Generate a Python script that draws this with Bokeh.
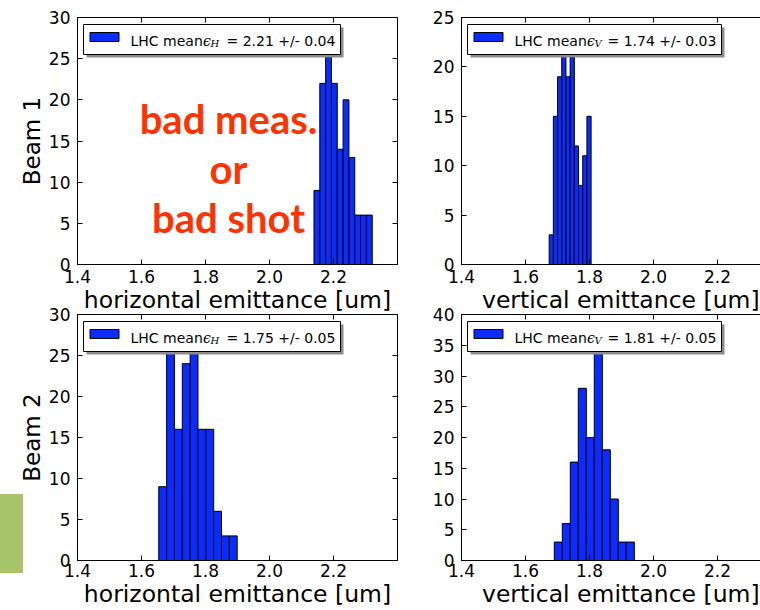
import numpy as np
from bokeh.plotting import figure
from bokeh.layouts import column, row
from bokeh.models import (LinearAxis, FixedTicker, PrintfTickFormatter,
                          CustomJSTickFormatter, BoxAnnotation, Label, Range1d,
                          Spacer)
from bokeh.embed import file_html
from bokeh.resources import INLINE

# ---------------- data ----------------
x_ticks = [1.4, 1.6, 1.8, 2.0, 2.2]
x_start = 1.4
beam_labels = ["Beam 1", "Beam 2"]
x_titles = ["horizontal emittance [um]", "vertical emittance [um]"]
annotation_lines = ["bad meas.", "or", "bad shot"]

b1_h_counts = [9, 22, 26, 22, 14, 20, 13, 6, 6, 6]
b1_h_range = (2.139, 2.321)
b1_h_ymax = 30
b1_h_mean = "2.21 +/- 0.04"

b1_v_counts = [3, 15, 19, 22, 19, 21, 12, 8, 11, 15]
b1_v_range = (1.674, 1.805)
b1_v_ymax = 25
b1_v_mean = "1.74 +/- 0.03"

b2_h_counts = [9, 26, 16, 24, 26, 16, 16, 6, 3, 3]
b2_h_range = (1.654, 1.899)
b2_h_ymax = 30
b2_h_mean = "1.75 +/- 0.05"

b2_v_counts = [3, 6, 16, 28, 20, 37, 18, 10, 3, 3]
b2_v_range = (1.690, 1.940)
b2_v_ymax = 40
b2_v_mean = "1.81 +/- 0.05"

# ---------------- style ----------------
BAR = "#0a2cff"
FONT = "DejaVu Sans"
PX_PER_UNIT = 320.0


def X(p, px):
    r = p.x_range
    return r.start + px / p.frame_width * (r.end - r.start)


def Y(p, py):
    r = p.y_range
    return r.end - py / p.frame_height * (r.end - r.start)


def style_axis(ax, ticks, fmt, labels=True, standoff=3):
    ax.ticker = FixedTicker(ticks=ticks)
    ax.major_tick_in = 5
    ax.major_tick_out = 0
    ax.minor_tick_line_color = None
    ax.axis_line_color = "black"
    ax.axis_line_width = 1
    ax.major_tick_line_color = "black"
    ax.major_label_text_font = FONT
    ax.major_label_text_color = "black"
    if labels:
        ax.formatter = PrintfTickFormatter(format=fmt)
        ax.major_label_text_font_size = "17px"
        ax.major_label_standoff = standoff
    else:
        ax.formatter = CustomJSTickFormatter(code="return ''")
        ax.major_label_text_font_size = "0px"
        ax.major_label_standoff = 0


def txt(p, s, px, py, font, size, style="normal", color="black", align="left"):
    p.add_layout(Label(x=X(p, px), y=Y(p, py), text=s, text_font=font,
                       text_font_size=size, text_font_style=style,
                       text_color=color, text_align=align,
                       text_baseline="alphabetic"))


def add_legend(p, sub, mean_txt, box_w, eq_px):
    bl, bt, bh = 6, 7, 30
    p.add_layout(BoxAnnotation(left=X(p, bl + 3), right=X(p, bl + 3 + box_w),
                               top=Y(p, bt + 3), bottom=Y(p, bt + 3 + bh),
                               fill_color="#8c8c8c", fill_alpha=1.0, line_color=None))
    p.add_layout(BoxAnnotation(left=X(p, bl), right=X(p, bl + box_w),
                               top=Y(p, bt), bottom=Y(p, bt + bh),
                               fill_color="white", fill_alpha=1.0,
                               line_color="black", line_alpha=1.0, line_width=1))
    p.add_layout(BoxAnnotation(left=X(p, bl + 6.5), right=X(p, bl + 35.5),
                               top=Y(p, bt + 8), bottom=Y(p, bt + 17),
                               fill_color=BAR, fill_alpha=1.0,
                               line_color="black", line_alpha=1.0, line_width=1))
    base = bt + 16.5
    txt(p, "LHC mean", bl + 47, base, FONT, "14px")
    txt(p, "\u03f5", bl + 119.5, base, "DejaVu Serif", "14px", "italic")
    txt(p, sub, bl + 127, base + 2.5, "DejaVu Serif", "10px", "italic")
    txt(p, "= " + mean_txt, bl + eq_px, base, FONT, "14px")


def make_panel(counts, rng, ymax, fw, fh, left_b, right_b, top_b, bottom_b,
               right_axis, ylabel, xtitle, tick_standoff, transparent=False,
               margin=None):
    kw = {}
    if margin is not None:
        kw["margin"] = margin
    p = figure(frame_width=fw, frame_height=fh,
               x_range=Range1d(x_start, x_start + fw / PX_PER_UNIT),
               y_range=Range1d(0, ymax),
               min_border_left=left_b, min_border_right=right_b,
               min_border_top=top_b, min_border_bottom=bottom_b,
               output_backend="svg", toolbar_location=None, **kw)
    p.xgrid.visible = False
    p.ygrid.visible = False
    p.outline_line_color = None
    p.background_fill_color = "white"
    if transparent:
        p.border_fill_color = None
    edges = np.linspace(rng[0], rng[1], len(counts) + 1)
    p.quad(left=edges[:-1], right=edges[1:], bottom=0, top=counts,
           fill_color=BAR, line_color="black", line_width=1)
    y_ticks = list(range(0, ymax + 1, 5))
    xa = p.below[0]
    ya = p.left[0]
    style_axis(xa, x_ticks, "%.1f", True, tick_standoff)
    style_axis(ya, y_ticks, "%d", True, 7)
    top = LinearAxis()
    style_axis(top, x_ticks, "%.1f", False)
    p.add_layout(top, "above")
    if right_axis:
        ra = LinearAxis()
        style_axis(ra, y_ticks, "%d", False)
        p.add_layout(ra, "right")
    if ylabel:
        ya.axis_label = ylabel
        ya.axis_label_text_font = FONT
        ya.axis_label_text_font_size = "23px"
        ya.axis_label_text_font_style = "normal"
        ya.axis_label_text_color = "black"
        ya.axis_label_standoff = 1
    xa.axis_label = xtitle
    xa.axis_label_text_font = FONT
    xa.axis_label_text_font_size = "23.5px"
    xa.axis_label_text_font_style = "normal"
    xa.axis_label_text_color = "black"
    xa.axis_label_standoff = 0
    return p


FW_L, FW_R = 320, 299
FH_T, FH_B = 247, 246
SHIFT = "\u00a0\u00a0\u2009"   # nudges the cropped right-hand titles to the right

p1 = make_panel(b1_h_counts, b1_h_range, b1_h_ymax, FW_L, FH_T, 77, 29, 17, 52,
                True, beam_labels[0], x_titles[0], 5)
p2 = make_panel(b1_v_counts, b1_v_range, b1_v_ymax, FW_R, FH_T, 35, 0, 17, 52,
                False, None, SHIFT + x_titles[1], 5)
p3 = make_panel(b2_h_counts, b2_h_range, b2_h_ymax, FW_L, FH_B, 66, 29, 12, 50,
                True, beam_labels[1], x_titles[0], 3, transparent=True,
                margin=(0, 0, 0, -12))
p4 = make_panel(b2_v_counts, b2_v_range, b2_v_ymax, FW_R, FH_B, 35, 0, 12, 50,
                False, None, SHIFT + x_titles[1], 3, transparent=True)

add_legend(p1, "H", b1_h_mean, 257, 143)
add_legend(p2, "V", b1_v_mean, 254, 140)
add_legend(p3, "H", b2_h_mean, 257, 143)
add_legend(p4, "V", b2_v_mean, 254, 140)

# red annotation on beam 1 horizontal
for line, base in zip(annotation_lines, [101, 151, 200]):
    txt(p1, line, 151, base, "Lato", "40px", "bold", color="#ff3300", align="center")

# green slide decoration at the left of the lower row (plain layout boxes)
ROW2_H = 12 + FH_B + 50
green = column(Spacer(width=23, height=192),
               Spacer(width=23, height=79, styles={"background-color": "#a8c46a"}),
               Spacer(width=23, height=ROW2_H - 192 - 79))

layout = column(row(p1, p2), row(green, p3, p4, margin=(-14, 0, 0, 0)))

with open("out.html", "w") as f:
    f.write(file_html(layout, INLINE))
